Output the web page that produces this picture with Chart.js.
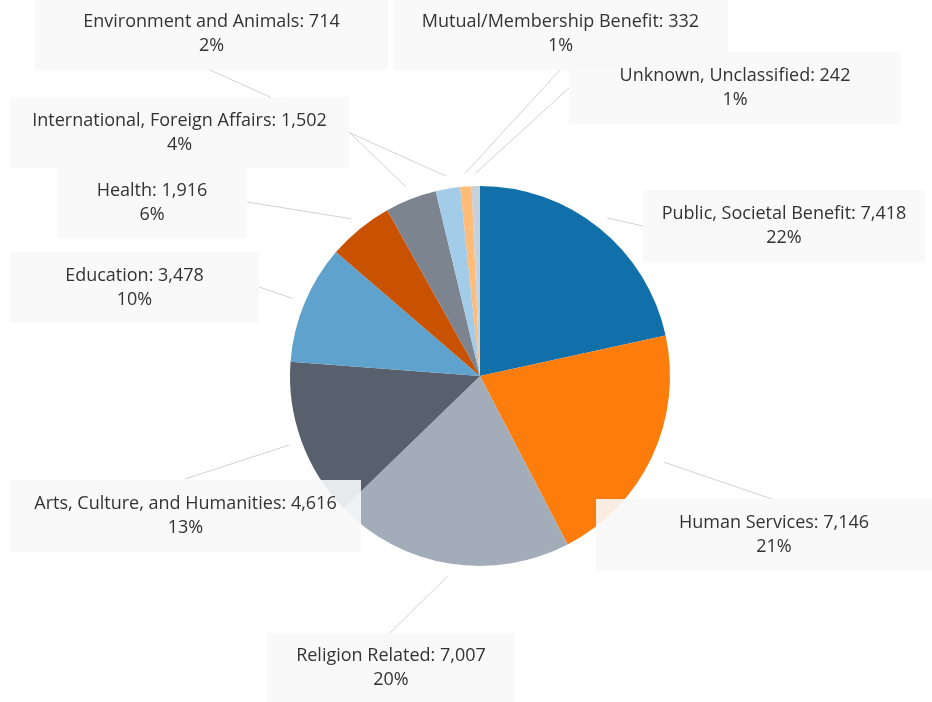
<!DOCTYPE html>
<html>
<head>
<meta charset="utf-8">
<script src="https://cdn.jsdelivr.net/npm/chart.js@4"></script>
<style>
html,body{margin:0;padding:0;background:#fff;}
#wrap{width:932px;height:702px;position:relative;}
</style>
</head>
<body>
<div id="wrap"><canvas id="c" width="932" height="702"></canvas></div>
<script>
// ---- Data ----
const categories = [
  "Public, Societal Benefit",
  "Human Services",
  "Religion Related",
  "Arts, Culture, and Humanities",
  "Education",
  "Health",
  "International, Foreign Affairs",
  "Environment and Animals",
  "Mutual/Membership Benefit",
  "Unknown, Unclassified"
];
const counts = [7418, 7146, 7007, 4616, 3478, 1916, 1502, 714, 332, 242];
const colors = ["#1170aa","#fc7d0b","#a3acb9","#57606c","#5fa2ce","#c85200","#7b848f","#a3cce9","#ffbc79","#c8d0d9"];

// ---- Label layout (box rect x,y,w,h and leader-line end at the box) ----
const labelBoxes = [
  [643,190,282,72],
  [596,499,356,72],
  [267,633,248,70],
  [10,480,351,72],
  [10,252,249,71],
  [57,168,190,70],
  [10,97,339,71],
  [35,-2,353,72],
  [393,-2,335,72],
  [569,52,332,72]
];
const lineEnds = [
  [643,226],[772,499],[390,633],[185,479],[259,287],
  [247,202],[349,132],[210,70],[560,70],[569,88]
];

const total = counts.reduce((a,b)=>a+b,0);
const fmt = n => n.toLocaleString('en-US');

const labelPlugin = {
  id: 'calloutLabels',
  afterDatasetsDraw(chart) {
    const ctx = chart.ctx;
    const arcs = chart.getDatasetMeta(0).data;
    ctx.save();
    // leader lines
    ctx.strokeStyle = '#d2d2d2';
    ctx.lineWidth = 1;
    arcs.forEach((arc, i) => {
      const p = arc.getProps(['x','y','startAngle','endAngle','outerRadius'], true);
      const mid = (p.startAngle + p.endAngle) / 2;
      const r = p.outerRadius + 13;
      const sx = p.x + Math.cos(mid) * r;
      const sy = p.y + Math.sin(mid) * r;
      ctx.beginPath();
      ctx.moveTo(sx, sy);
      ctx.lineTo(lineEnds[i][0], lineEnds[i][1]);
      ctx.stroke();
    });
    // boxes + text
    ctx.font = '18px "Open Sans"';
    ctx.textAlign = 'center';
    ctx.textBaseline = 'middle';
    arcs.forEach((arc, i) => {
      const [bx,by,bw,bh] = labelBoxes[i];
      ctx.fillStyle = 'rgba(248,248,248,0.9)';
      ctx.fillRect(bx,by,bw,bh);
      const cx = bx + bw/2, cy = by + bh/2;
      ctx.fillStyle = '#333333';
      ctx.fillText(categories[i] + ': ' + fmt(counts[i]), cx, cy - 12);
      ctx.fillText(Math.round(counts[i] / total * 100) + '%', cx, cy + 12);
    });
    ctx.restore();
  }
};

new Chart(document.getElementById('c'), {
  type: 'pie',
  data: {
    labels: categories,
    datasets: [{
      data: counts,
      backgroundColor: colors,
      borderWidth: 0,
      hoverOffset: 0
    }]
  },
  options: {
    responsive: false,
    animation: false,
    layout: { padding: { left: 290, right: 262, top: 186, bottom: 136 } },
    plugins: { legend: { display: false }, tooltip: { enabled: false } }
  },
  plugins: [labelPlugin]
});
</script>
</body>
</html>
